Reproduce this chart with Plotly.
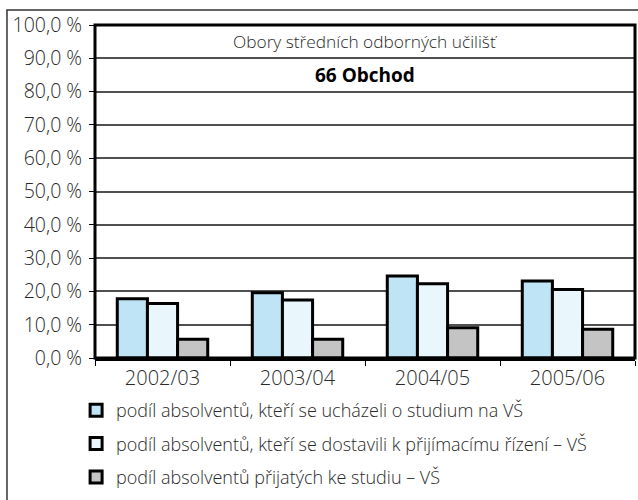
import plotly.graph_objects as go

# School years and the three shares of graduates (in %)
years = ["2002/03", "2003/04", "2004/05", "2005/06"]
applied = [17.8, 19.6, 24.6, 23.1]
attended = [16.4, 17.4, 22.3, 20.6]
admitted = [5.6, 5.6, 9.1, 8.6]

series_names = [
    "podíl absolventů, kteří se ucházeli o studium na VŠ",
    "podíl absolventů, kteří se dostavili k přijímacímu řízení – VŠ",
    "podíl absolventů přijatých ke studiu – VŠ",
]
series_colors = ["#BEE4F5", "#E9F6FC", "#C4C4C4"]

tick_vals = list(range(0, 101, 10))
tick_text = [f"{v},0 %" for v in tick_vals]

FONT = "'Open Sans', Lato, sans-serif"
TEXT_COLOR = "#2a2a2a"

fig = go.Figure()
for i, (name, vals, col) in enumerate(zip(series_names, [applied, attended, admitted], series_colors)):
    fig.add_trace(go.Bar(
        x=years, y=vals, name=name,
        marker=dict(color=col, line=dict(color="black", width=3)),
        legendgroup=f"g{i}",
    ))

fig.update_layout(
    width=638, height=500,
    margin=dict(l=95, r=3, t=25, b=142),
    paper_bgcolor="white", plot_bgcolor="white",
    barmode="group", bargap=0.33, bargroupgap=0,
    font=dict(family=FONT, size=16, color=TEXT_COLOR, weight=300),
    showlegend=True,
    legend=dict(
        x=-0.035, xanchor="left", y=-0.102, yanchor="top",
        font=dict(family=FONT, size=18, color=TEXT_COLOR, weight=300),
        traceorder="grouped", tracegroupgap=7,
        bgcolor="rgba(0,0,0,0)",
    ),
    xaxis=dict(
        type="category", showline=True, linecolor="black", linewidth=3,
        ticks="outside", tickson="boundaries", ticklen=5, tickcolor="black", tickwidth=1,
        tickfont=dict(family=FONT, size=20, color=TEXT_COLOR, weight=300),
        showgrid=False, zeroline=False,
    ),
    yaxis=dict(
        range=[0, 100], tickvals=tick_vals, ticktext=tick_text,
        showgrid=True, gridcolor="#505050", gridwidth=1.5,
        ticks="outside", ticklen=5, tickcolor="black", tickwidth=1,
        ticklabelstandoff=3,
        tickfont=dict(family=FONT, size=19.5, color=TEXT_COLOR, weight=300),
        showline=False, zeroline=False,
    ),
    shapes=[
        # plot frame
        dict(type="rect", xref="paper", yref="paper", x0=0, x1=1, y0=0, y1=1,
             line=dict(color="black", width=3), layer="above"),
        # outer chart border
        dict(type="rect", xref="paper", yref="paper", x0=-0.163, x1=1.2, y0=-0.6, y1=1.045,
             line=dict(color="#333333", width=1.5)),
    ],
    annotations=[
        dict(text="Obory středních odborných učilišť", xref="paper", yref="paper",
             x=0.5, y=0.95, yanchor="middle", showarrow=False,
             font=dict(family=FONT, size=17.3, color=TEXT_COLOR, weight=300)),
        dict(text="<b>66 Obchod</b>", xref="paper", yref="paper",
             x=0.5, y=0.85, yanchor="middle", showarrow=False,
             font=dict(family=FONT, size=19, color="black")),
    ],
)

fig.write_html("out.html")
